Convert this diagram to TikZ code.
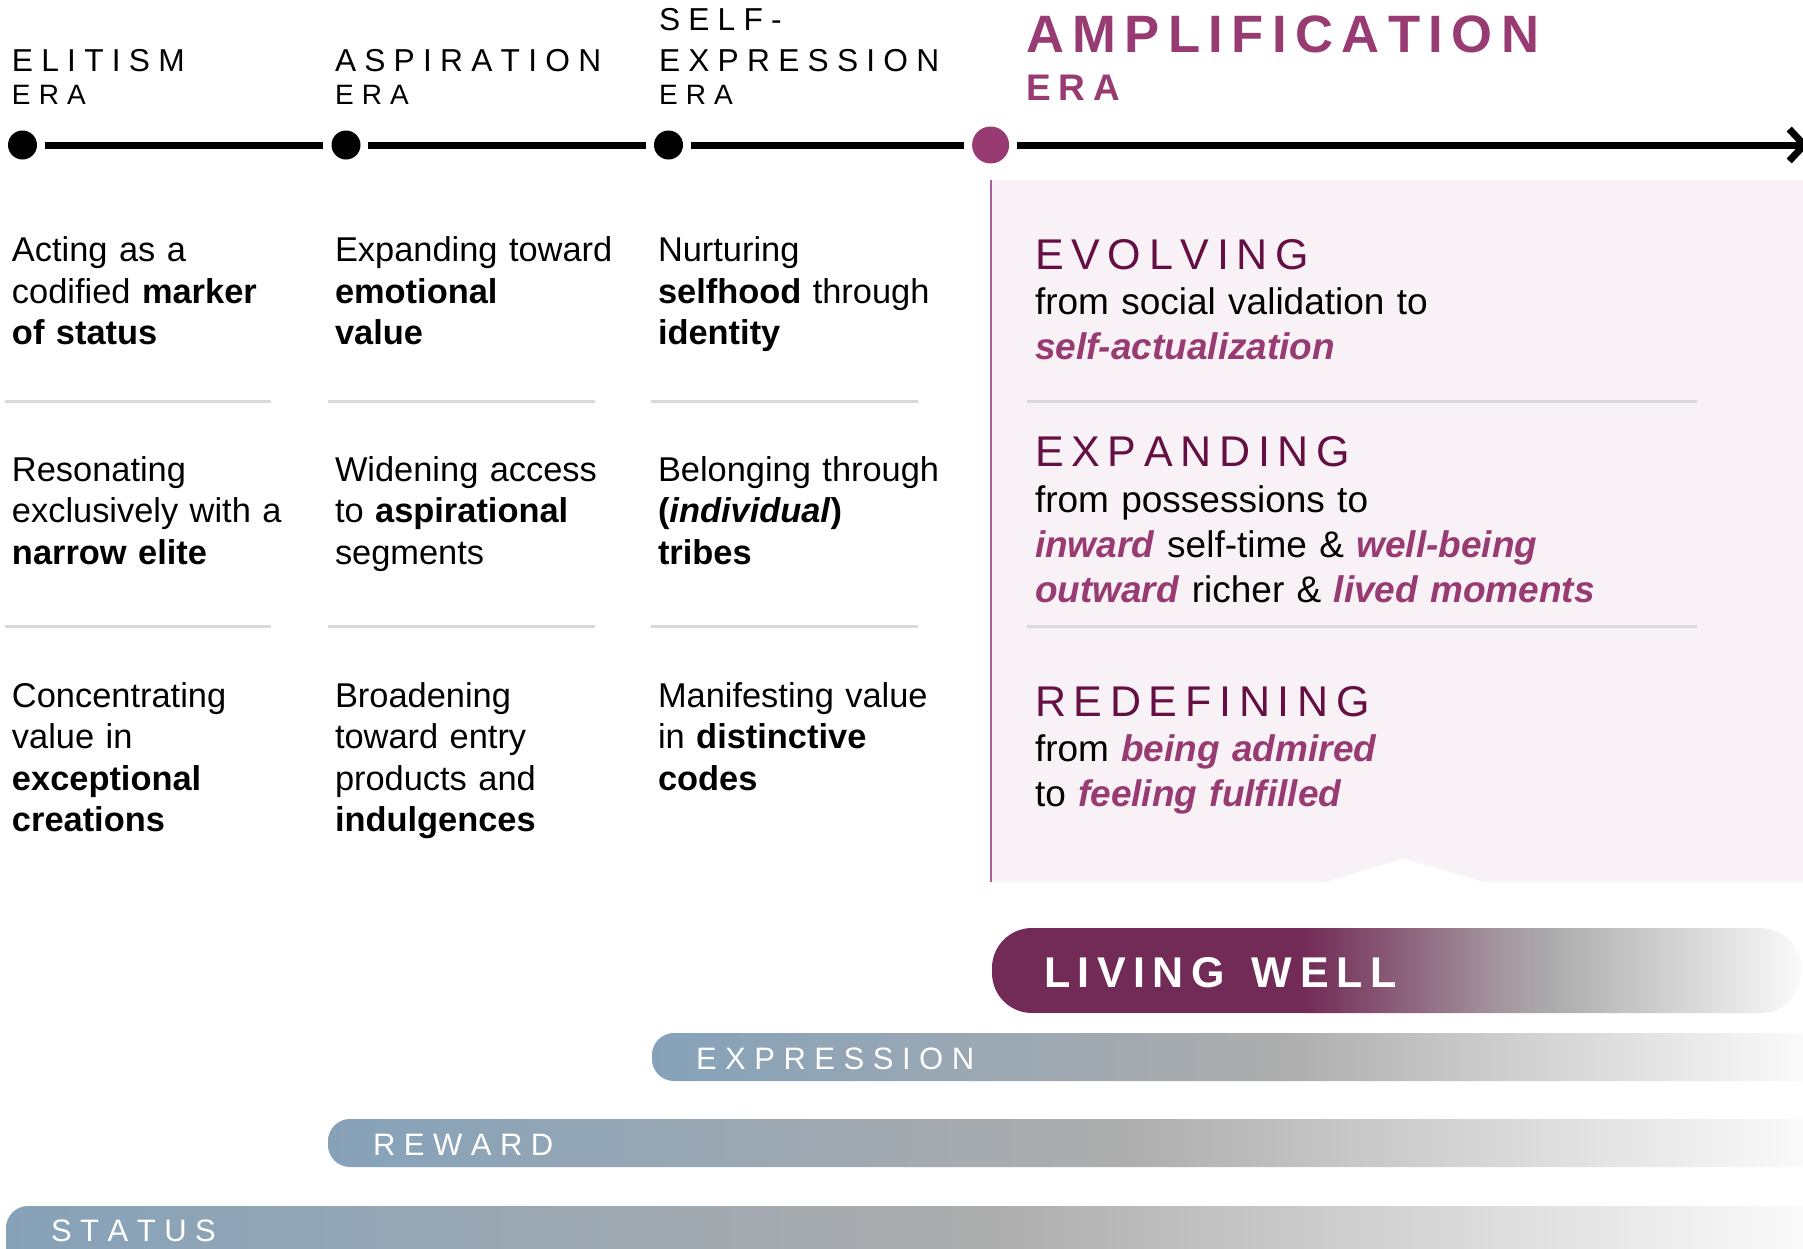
\documentclass[tikz,border=0pt]{standalone}
\usepackage{fontspec}
\setmainfont{Liberation Sans}
\usetikzlibrary{arrows.meta}

\definecolor{plum}{HTML}{983B72}
\definecolor{plumdark}{HTML}{650F43}
\definecolor{plumbar}{HTML}{722B56}
\definecolor{mauvegray}{HTML}{A4969F}
\definecolor{panelpink}{HTML}{F8F2F6}
\definecolor{panelline}{HTML}{A8609A}
\definecolor{rulegray}{HTML}{D9D9D9}
\definecolor{steel}{HTML}{86A2B9}
\definecolor{midgray}{HTML}{ADADAD}
\definecolor{fadewhite}{HTML}{FAFAFA}

% letter-spaced capitals: \tracked{kern}{LETTERS}, a space is written as ~
\makeatletter
\newcommand\tracked[2]{\def\trk@k{#1}\trk@loop#2\relax}
\def\trk@loop#1{\ifx#1\relax\else#1\kern\trk@k\expandafter\trk@loop\fi}
\makeatother
\newcommand\hl[1]{\textcolor{plum}{\textbf{\textit{#1}}}}

\begin{document}
\begin{tikzpicture}[x=1pt,y=-1pt,
  dot/.style={circle,fill=black,inner sep=0pt,minimum size=29pt},
  bigdot/.style={circle,fill=plum,inner sep=0pt,minimum size=37pt},
  timeline/.style={line width=7pt,shorten <=7.5pt,shorten >=8pt},
  txt/.style={anchor=base west,inner sep=0pt,outer sep=0pt},
  erahead/.style={txt,font=\fontsize{31.7}{38}\selectfont},
  erasub/.style={txt,font=\fontsize{28}{33}\selectfont},
  amphead/.style={txt,text=plum,font=\fontsize{52.6}{60}\selectfont\bfseries},
  ampsub/.style={txt,text=plum,font=\fontsize{37}{44}\selectfont\bfseries},
  body/.style={txt,align=left,text width=315pt,font=\fontsize{34.4}{41.5}\selectfont},
  sep/.style={draw=rulegray,line width=3pt},
  paneltext/.style={txt,align=left,text width=760pt,font=\fontsize{37}{45}\selectfont},
  panelhead/.style={txt,text=plumdark,font=\fontsize{43}{50}\selectfont},
  barlabel/.style={txt,text=white,font=\fontsize{31}{37}\selectfont},
  livinglabel/.style={txt,text=white,font=\fontsize{43}{50}\selectfont\bfseries},
]
\useasboundingbox (0,0) rectangle (1803,1248);

% ---------- amplification panel ----------
\fill[panelpink] (991,180) -- (1803,180) -- (1803,882) -- (1484,882)
  -- (1403.5,858.5) -- (1326,882) -- (991,882) -- cycle;
\draw[panelline,line width=2pt] (991,180) -- (991,882);

% ---------- era headings ----------
\node[erahead] (e1) at (12,71) {\tracked{0.26em}{ELITISM}};
\node[erasub] (e1s) at (12,104.3) {\tracked{0.29em}{ERA}};
\node[erahead] (e2) at (335,71) {\tracked{0.26em}{ASPIRATION}};
\node[erasub] (e2s) at (335,104.3) {\tracked{0.29em}{ERA}};
\node[erahead] (e3a) at (659,30) {\tracked{0.26em}{SELF-}};
\node[erahead] (e3) at (659,71) {\tracked{0.26em}{EXPRESSION}};
\node[erasub] (e3s) at (659,104.3) {\tracked{0.29em}{ERA}};
\node[amphead] (e4) at (1026,52.7) {\tracked{0.16em}{AMPLIFICATION}};
\node[ampsub] (e4s) at (1026,100.7) {\tracked{0.22em}{ERA}};

% ---------- timeline ----------
\node[dot] (d1) at (22.5,145) {};
\node[dot] (d2) at (346,145) {};
\node[dot] (d3) at (668.5,145) {};
\node[bigdot] (d4) at (990.6,145) {};
\coordinate (tip) at (1809,145);
\draw[timeline] (d1) -- (d2);
\draw[timeline] (d2) -- (d3);
\draw[timeline] (d3) -- (d4);
\draw[line width=7pt,shorten <=7.5pt,-{Straight Barb[length=15pt,width=32pt]}] (d4) -- (tip);

% ---------- era descriptions ----------
\node[body] (a1) at (12,261.5) {Acting as a\\codified \textbf{marker}\\\textbf{of status}};
\node[body] (a2) at (12,481) {Resonating\\exclusively with a\\\textbf{narrow elite}};
\node[body] (a3) at (12,707) {Concentrating\\value in\\\textbf{exceptional}\\\textbf{creations}};
\node[body] (b1) at (335,261.5) {Expanding toward\\\textbf{emotional}\\\textbf{value}};
\node[body] (b2) at (335,481) {Widening access\\to \textbf{aspirational}\\segments};
\node[body] (b3) at (335,707) {Broadening\\toward entry\\products and\\\textbf{indulgences}};
\node[body] (c1) at (658,261.5) {Nurturing\\\textbf{selfhood} through\\\textbf{identity}};
\node[body] (c2) at (658,481) {Belonging through\\\textbf{(\textit{individual})}\\\textbf{tribes}};
\node[body] (c3) at (658,707) {Manifesting value\\in \textbf{distinctive}\\\textbf{codes}};

\draw[sep] (5,401.5) -- (271,401.5);
\draw[sep] (328,401.5) -- (595,401.5);
\draw[sep] (651,401.5) -- (918,401.5);
\draw[sep] (5,626) -- (271,626);
\draw[sep] (328,626) -- (595,626);
\draw[sep] (651,626) -- (918,626);

% ---------- amplification statements ----------
\node[panelhead] (h1) at (1035,269) {\tracked{0.18em}{EVOLVING}};
\node[paneltext] (p1) at (1035,314) {from social validation to\\\hl{self-actualization}};
\node[panelhead] (h2) at (1035,466.5) {\tracked{0.18em}{EXPANDING}};
\node[paneltext] (p2) at (1035,512) {from possessions to\\\hl{inward} self-time \& \hl{well-being}\\\hl{outward} richer \& \hl{lived moments}};
\node[panelhead] (h3) at (1035,716) {\tracked{0.18em}{REDEFINING}};
\node[paneltext] (p3) at (1035,761) {from \hl{being admired}\\to \hl{feeling fulfilled}};
\draw[sep] (1027,401.5) -- (1697,401.5);
\draw[sep] (1027,626) -- (1697,626);

% ---------- driver bars ----------
\begin{scope}
  \clip[rounded corners=40pt] (992,928) rectangle (1801,1013);
  \fill[plumbar] (992,928) rectangle (1305,1013);
  \shade[left color=plumbar,right color=mauvegray] (1304,928) rectangle (1499,1013);
  \shade[left color=mauvegray,right color=midgray] (1498,928) rectangle (1556,1013);
  \shade[left color=midgray,right color=fadewhite] (1555,928) rectangle (1801,1013);
\end{scope}
\begin{scope}
  \clip[rounded corners=22pt] (652,1033) rectangle (1830,1081);
  \shade[left color=steel,right color=midgray] (652,1033) rectangle (1284,1081);
  \shade[left color=midgray,right color=fadewhite] (1283,1033) rectangle (1803,1081);
  \fill[fadewhite] (1802.5,1033) rectangle (1830,1081);
\end{scope}
\begin{scope}
  \clip[rounded corners=22pt] (328,1119) rectangle (1830,1167);
  \shade[left color=steel,right color=midgray] (328,1119) rectangle (1122,1167);
  \shade[left color=midgray,right color=fadewhite] (1121,1119) rectangle (1803,1167);
  \fill[fadewhite] (1802.5,1119) rectangle (1830,1167);
\end{scope}
\begin{scope}
  \clip[rounded corners=22pt] (6,1206) rectangle (1830,1300);
  \shade[left color=steel,right color=midgray] (6,1206) rectangle (996,1300);
  \shade[left color=midgray,right color=fadewhite] (995,1206) rectangle (1803,1300);
  \fill[fadewhite] (1802.5,1206) rectangle (1830,1300);
\end{scope}

\node[livinglabel] (lw) at (1044,987) {\tracked{0.175em}{LIVING~WELL}};
\node[barlabel] (ex) at (696,1069) {\tracked{0.275em}{EXPRESSION}};
\node[barlabel] (rw) at (373,1155) {\tracked{0.275em}{REWARD}};
\node[barlabel] (st) at (51,1241) {\tracked{0.275em}{STATUS}};
\end{tikzpicture}
\end{document}
